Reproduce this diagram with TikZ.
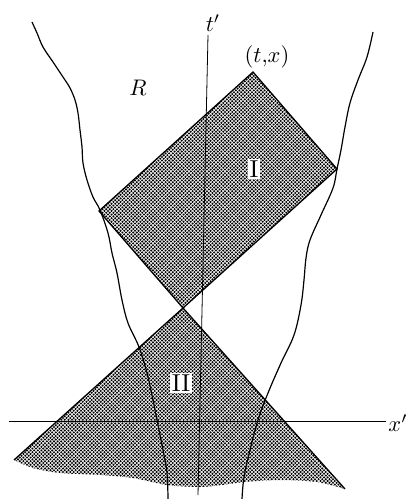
\documentclass[tikz,border=0pt]{standalone}
\usepackage{graphicx}
\usetikzlibrary{patterns}
\pgfdeclarepatternformonly{mydots}{\pgfqpoint{-1.2pt}{-1.2pt}}{\pgfqpoint{3pt}{3pt}}{\pgfqpoint{3.6pt}{3.6pt}}{%
  \pgfpathcircle{\pgfqpoint{0pt}{0pt}}{1.15pt}%
  \pgfpathcircle{\pgfqpoint{1.8pt}{1.8pt}}{1.15pt}%
  \pgfusepath{fill}}
\newcommand{\biglab}[1]{\scalebox{2.25}{#1}}
\newcommand{\bigrom}[1]{\scalebox{2.45}{#1}}
\tikzset{
  region/.style={pattern=mydots, pattern color=black},
  edge/.style={line width=1.3pt, line join=miter},
  world/.style={line width=1.2pt},
  axis/.style={line width=0.8pt},
  lab/.style={inner sep=1pt},
  roman/.style={fill=white, inner sep=2pt}
}
\begin{document}
\begin{tikzpicture}[x=1pt,y=-1pt]
\useasboundingbox (0,0) rectangle (406,499);
% region I (rectangle)
\coordinate (T) at (253,72);
\coordinate (Rv) at (337,169);
\coordinate (B) at (183,308);
\coordinate (Lv) at (99,211);
% region II (triangle)
\coordinate (TL) at (14,460);
\coordinate (TR) at (345,489);
\fill[region] (T) -- (Rv) -- (B) -- (Lv) -- cycle;
\fill[region] (B) -- plot[smooth] coordinates {(14,460) (33,468) (60,473) (100,475) (133,478) (167,485) (200,487) (222,485) (245,482) (280,480) (317,482) (345,489)} -- cycle;
\draw[edge] (T) -- (Rv) -- (B) -- (Lv) -- cycle;
\draw[edge] (TL) -- (B) -- (TR);
% axes
\coordinate (tTop) at (208,35);
\coordinate (tBot) at (198,495);
\coordinate (xL) at (9,421);
\coordinate (xR) at (386,421);
\draw[axis] (tTop) -- (tBot);
\draw[axis] (xL) -- (xR);
% world tube boundaries
\draw[world] plot[smooth, tension=0.6] coordinates {(32,22) (37,33) (43,47) (53,62) (63,77) (70,88) (75,100) (78,113) (80,130) (82,147) (83,163) (87,180) (93,197) (100,210) (108,233) (112,253) (117,273) (122,300) (128,323) (139,347) (147,373) (153,400) (157,420) (163,450) (167,473) (168,499)};
\draw[world] plot[smooth, tension=0.6] coordinates {(373,32) (367,57) (358,80) (350,103) (345,127) (341,150) (337,169) (333,188) (321,215) (310,240) (306,258) (304,280) (301,305) (294,335) (281,363) (268,393) (258,420) (250,450) (244,477) (242,499)};
% labels
\node[lab] (tl) at (213,23) {\biglab{$t'$}};
\node[lab] (xl) at (398,423) {\biglab{$x'$}};
\node[lab] (pt) at (267,57) {\biglab{$(t{,}x)$}};
\node[lab] (Rl) at (138,88) {\biglab{$R$}};
\node[roman] (one) at (254,169) {\bigrom{I}};
\node[roman] (two) at (181,383) {\bigrom{II}};
\end{tikzpicture}
\end{document}
